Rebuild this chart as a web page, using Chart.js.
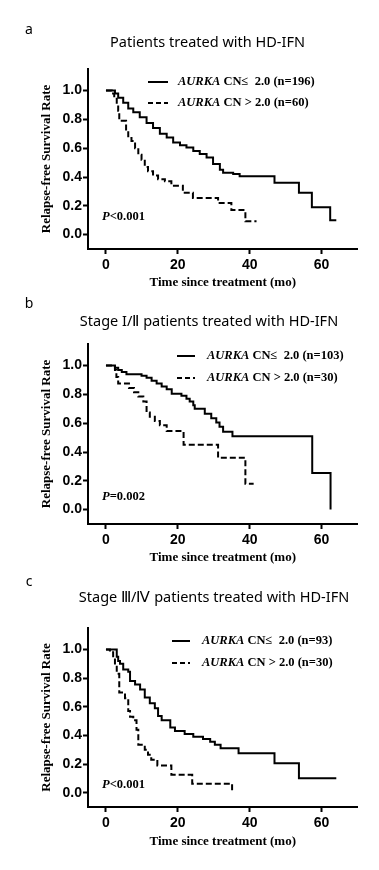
<!DOCTYPE html>
<html><head><meta charset="utf-8">
<script src="https://cdn.jsdelivr.net/npm/chart.js@4.4.1/dist/chart.umd.min.js"></script>
<style>
html,body{margin:0;padding:0;background:#fff;width:379px;height:870px;overflow:hidden}
canvas{position:absolute;left:0}
</style></head>
<body>
<canvas id="ca" width="379" height="291" style="top:0px"></canvas>
<canvas id="cb" width="379" height="284" style="top:291px"></canvas>
<canvas id="cc" width="379" height="295" style="top:575px"></canvas>
<script>
// ---- data (time in months, relapse-free survival) ----
const xTicks = [0, 20, 40, 60];
const yTicks = [0, 0.2, 0.4, 0.6, 0.8, 1.0];

// Panel a: all patients treated with HD-IFN
const aLowT = [0, 2.5, 3.4, 4.8, 6.2, 7.6, 9.4, 11.3, 13.1, 15.0, 16.9, 18.7, 20.6, 22.4, 24.3, 26.1, 28.0, 29.8, 31.7, 32.6, 35.4, 37.2, 46.9, 53.7, 57.3, 62.4, 64.1];
const aLowS = [1.0, 0.98, 0.95, 0.915, 0.875, 0.85, 0.815, 0.775, 0.74, 0.70, 0.675, 0.64, 0.62, 0.605, 0.58, 0.56, 0.535, 0.49, 0.45, 0.43, 0.42, 0.405, 0.36, 0.29, 0.19, 0.10, 0.10];
const aHighT = [0, 1.6, 2.3, 3.0, 3.4, 3.7, 5.6, 6.2, 7.1, 8.1, 9.0, 9.9, 10.8, 11.7, 13.1, 14.5, 16.4, 18.2, 21.4, 24.2, 31.2, 34.9, 38.8, 41.9];
const aHighS = [1.0, 0.98, 0.95, 0.915, 0.86, 0.79, 0.73, 0.67, 0.65, 0.60, 0.555, 0.52, 0.47, 0.44, 0.41, 0.385, 0.37, 0.34, 0.29, 0.255, 0.22, 0.17, 0.093, 0.093];

// Panel b: stage I/II
const bLowT = [0, 2.5, 3.4, 4.4, 5.7, 9.9, 11.3, 12.7, 14.1, 15.5, 16.9, 18.3, 21.0, 22.4, 23.3, 24.3, 24.7, 27.5, 29.3, 30.7, 31.6, 32.6, 35.2, 57.4, 62.5];
const bLowS = [1.0, 0.985, 0.97, 0.955, 0.94, 0.93, 0.915, 0.895, 0.875, 0.855, 0.835, 0.805, 0.79, 0.77, 0.75, 0.725, 0.70, 0.665, 0.635, 0.605, 0.575, 0.54, 0.51, 0.255, 0.0];
const bHighT = [0, 2.5, 2.9, 3.4, 6.4, 7.8, 9.0, 10.4, 11.3, 12.2, 13.6, 15.0, 16.9, 21.6, 31.2, 38.8, 41.1];
const bHighS = [1.0, 0.97, 0.92, 0.875, 0.845, 0.815, 0.785, 0.75, 0.675, 0.645, 0.615, 0.585, 0.545, 0.45, 0.36, 0.18, 0.18];

// Panel c: stage III/IV
const cLowT = [0, 3.0, 3.4, 3.9, 4.8, 6.2, 6.7, 8.1, 9.5, 10.8, 12.2, 13.6, 14.5, 15.5, 17.9, 19.2, 21.9, 24.3, 27.0, 29.0, 30.3, 31.9, 36.9, 46.9, 53.7, 64.1];
const cLowS = [1.0, 0.95, 0.92, 0.90, 0.86, 0.845, 0.78, 0.755, 0.72, 0.665, 0.625, 0.59, 0.535, 0.505, 0.455, 0.43, 0.41, 0.39, 0.375, 0.355, 0.335, 0.31, 0.275, 0.205, 0.10, 0.10];
const cHighT = [0, 1.1, 2.0, 2.5, 3.0, 3.7, 5.3, 6.2, 6.7, 7.6, 8.5, 9.0, 10.8, 11.7, 12.6, 14.3, 18.2, 24.0, 35.1];
const cHighS = [1.0, 0.98, 0.93, 0.88, 0.83, 0.70, 0.66, 0.57, 0.53, 0.505, 0.44, 0.335, 0.30, 0.265, 0.23, 0.19, 0.125, 0.063, 0.0];

const panelLetters = ['a', 'b', 'c'];
const panelTitles = ['Patients treated with HD-IFN', 'Stage I/Ⅱ patients treated with HD-IFN', 'Stage Ⅲ/Ⅳ patients treated with HD-IFN'];
const lowLabels = ['CN\u2264  2.0 (n=196)', 'CN\u2264  2.0 (n=103)', 'CN\u2264  2.0 (n=93)'];
const highLabels = ['CN > 2.0 (n=60)', 'CN > 2.0 (n=30)', 'CN > 2.0 (n=30)'];
const geneName = 'AURKA';
const pValues = ['<0.001', '=0.002', '<0.001'];
const xTitle = 'Time since treatment (mo)';
const yTitle = 'Relapse-free Survival Rate';

// ---- layout (page coordinates) ----
const layouts = [
  {id:'ca', top:0,   h:291, plotTop:69,  plotBottom:249, xTitleY:283, letterY:30,  titleX:207.5, titleY:43,  legX1:148, legX2:168, legTX:178, legY:[82,103],  pY:217},
  {id:'cb', top:291, h:284, plotTop:344, plotBottom:524, xTitleY:558, letterY:304, titleX:209,   titleY:322, legX1:177, legX2:195, legTX:207, legY:[356,378], pY:497},
  {id:'cc', top:575, h:295, plotTop:628, plotBottom:807, xTitleY:842, letterY:582, titleX:214,   titleY:598, legX1:172, legX2:190, legTX:202, legY:[641,663], pY:785}
];
const PLOT_LEFT = 88, PLOT_RIGHT = 357.5, YTITLE_PAD = 39;
const TITLE_FS = 13, TITLE_LH = TITLE_FS * 1.2;

function pts(t, s) { return t.map((v, i) => ({x: v, y: s[i]})); }

const serif = '"Liberation Serif", "Times New Roman", serif';
const sans = '"Liberation Sans", Arial, sans-serif';
const uiSans = '"Noto Sans", "Open Sans", sans-serif';

const annotPlugin = {
  id: 'annot',
  afterDraw(chart, args, o) {
    const ctx = chart.ctx, L = o.L, dy = -L.top;
    ctx.save();
    ctx.fillStyle = '#000';
    ctx.textBaseline = 'middle';
    // panel letter
    ctx.font = '14px ' + uiSans;
    ctx.textAlign = 'center';
    ctx.fillText(o.letter, 29, L.letterY + dy);
    // panel title
    ctx.font = '14.5px ' + uiSans;
    ctx.fillText(o.title, L.titleX, L.titleY + dy);
    // legend
    ctx.textAlign = 'left';
    ctx.strokeStyle = '#000';
    ctx.lineWidth = 2;
    const items = [{dash: [], text: o.low}, {dash: [5, 3], text: o.high}];
    items.forEach((it, i) => {
      const y = L.legY[i] + dy;
      ctx.setLineDash(it.dash);
      ctx.beginPath(); ctx.moveTo(L.legX1, y); ctx.lineTo(L.legX2, y); ctx.stroke();
      ctx.setLineDash([]);
      ctx.font = 'italic bold 12.5px ' + serif;
      ctx.fillText(geneName, L.legTX, y);
      const w = ctx.measureText(geneName + ' ').width;
      ctx.font = 'bold 12.5px ' + serif;
      ctx.fillText(it.text, L.legTX + w, y);
    });
    // P value
    ctx.font = 'italic bold 12.5px ' + serif;
    ctx.fillText('P', 102, L.pY + dy);
    const pw = ctx.measureText('P').width;
    ctx.font = 'bold 12.5px ' + serif;
    ctx.fillText(o.p, 102 + pw, L.pY + dy);
    ctx.restore();
  }
};

const curves = [[aLowT, aLowS, aHighT, aHighS], [bLowT, bLowS, bHighT, bHighS], [cLowT, cLowS, cHighT, cHighS]];

layouts.forEach((L, k) => {
  const xh = L.xTitleY + TITLE_LH / 2 - L.plotBottom;
  const pb = L.top + L.h - L.plotBottom - xh;
  const c = curves[k];
  new Chart(document.getElementById(L.id), {
    type: 'line',
    data: {
      datasets: [
        {data: pts(c[0], c[1]), borderColor: '#000', borderWidth: 2, stepped: 'before', pointRadius: 0, fill: false},
        {data: pts(c[2], c[3]), borderColor: '#000', borderWidth: 2, borderDash: [6, 3], stepped: 'before', pointRadius: 0, fill: false}
      ]
    },
    options: {
      responsive: false,
      animation: false,
      events: [],
      layout: {padding: {left: YTITLE_PAD, right: 379 - PLOT_RIGHT, top: L.plotTop - L.top, bottom: pb}},
      plugins: {
        legend: {display: false},
        tooltip: {enabled: false},
        annot: {L: L, letter: panelLetters[k], title: panelTitles[k], low: lowLabels[k], high: highLabels[k], p: pValues[k]}
      },
      scales: {
        x: {
          type: 'linear', min: -5, max: 70,
          afterBuildTicks: s => { s.ticks = xTicks.map(v => ({value: v})); },
          afterFit: s => { s.height = xh; },
          ticks: {color: '#000', font: {family: sans, size: 14, weight: 'bold'}, padding: 3, maxRotation: 0, callback: v => String(v)},
          grid: {drawOnChartArea: false, drawTicks: true, tickLength: 5, tickWidth: 2, tickColor: '#000', color: '#000'},
          border: {display: true, color: '#000', width: 2},
          title: {display: true, text: xTitle, color: '#000', font: {family: serif, size: TITLE_FS, weight: 'bold'}, padding: 0}
        },
        y: {
          type: 'linear', min: -0.1, max: 1.15,
          afterBuildTicks: s => { s.ticks = yTicks.map(v => ({value: v})); },
          afterFit: s => { s.width = PLOT_LEFT - YTITLE_PAD; },
          ticks: {color: '#000', font: {family: sans, size: 14, weight: 'bold'}, padding: 1, callback: v => Number(v).toFixed(1)},
          grid: {drawOnChartArea: false, drawTicks: true, tickLength: 5, tickWidth: 2, tickColor: '#000', color: '#000'},
          border: {display: true, color: '#000', width: 2},
          title: {display: true, text: yTitle, color: '#000', font: {family: serif, size: TITLE_FS, weight: 'bold'}, padding: 0}
        }
      }
    },
    plugins: [annotPlugin]
  });
});
</script>
</body></html>
